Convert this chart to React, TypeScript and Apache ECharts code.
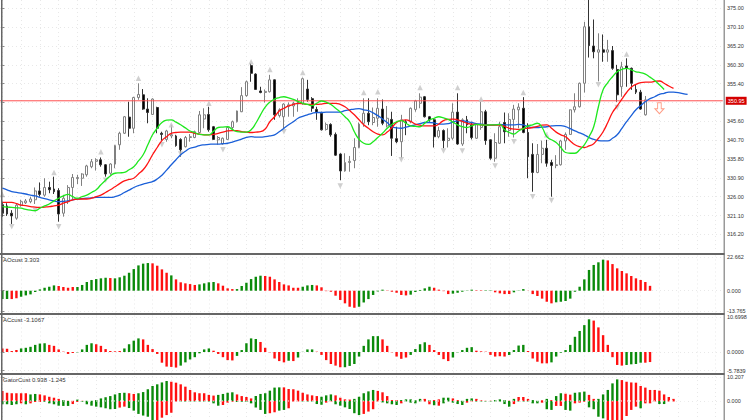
import React, { useEffect, useRef } from "react";
import * as echarts from "echarts";

const FONT = "'Liberation Sans', Arial, sans-serif";
const BARS = 154;
const categories = Array.from({ length: BARS }, (_, i) => String(i));
const gridSlots = categories.map((_, i) => i).filter((i) => i % 4 === 0);

const opens = [
323.9,323.6,321.7,320.4,323.8,324.4,324.7,325.2,327.5,326.4,
328.4,328.0,327.6,321.7,324.7,328.4,330.7,330.8,331.7,333.8,
335.2,335.6,334.3,332.1,334.5,339.5,342.5,346.7,343.8,351.8,
352.5,348.8,347.4,349.2,342.5,340.9,341.8,341.8,340.9,339.0,
341.4,341.4,342.7,346.2,347.4,344.2,340.8,339.7,340.9,344.0,
345.5,348.1,352.3,360.1,357.9,353.5,353.1,353.3,356.4,347.1,
346.8,349.5,349.6,350.1,350.3,354.0,351.5,348.7,347.7,343.5,
344.8,342.2,337.1,332.7,334.9,335.4,338.8,345.1,347.7,345.3,
346.4,348.8,344.4,346.1,341.1,340.3,345.5,345.5,348.7,350.3,
352.0,346.8,346.0,341.6,343.2,340.6,341.2,348.0,339.7,346.0,
344.7,341.2,344.0,348.1,340.8,336.0,339.9,345.3,343.2,346.1,
348.6,349.0,342.7,337.0,332.3,337.0,338.6,334.9,334.1,334.3,
340.5,342.2,348.6,349.4,355.5,370.2,365.2,363.6,364.2,363.6,
364.0,359.1,354.6,360.0,359.4,353.9,353.2,347.3];
const closes = [
321.7,321.5,321.0,323.8,324.7,324.9,325.4,327.5,326.6,328.4,
327.8,327.3,321.5,325.6,328.4,331.0,331.0,331.9,334.0,335.1,
335.6,334.3,331.9,334.5,339.3,342.5,346.8,343.8,351.8,352.6,
348.8,347.9,351.4,343.8,342.2,343.1,342.1,339.3,338.2,341.4,
341.6,342.9,347.3,347.3,343.4,340.9,341.4,341.2,344.0,345.5,
348.3,352.3,355.9,358.1,353.9,353.1,353.4,356.4,347.3,348.6,
350.1,349.9,350.3,350.7,356.7,351.3,349.0,347.9,343.4,344.8,
342.1,336.8,332.7,334.9,335.2,338.8,344.9,347.7,345.5,346.6,
349.0,345.1,346.4,341.2,340.3,346.0,345.1,349.0,350.9,351.9,
346.8,346.0,341.6,343.2,340.6,341.2,348.0,339.7,346.0,344.7,
341.4,344.7,348.1,340.6,336.0,340.1,344.2,342.9,346.1,348.8,
349.3,342.7,336.4,332.3,337.0,338.6,334.7,334.1,334.3,340.5,
342.2,348.6,349.4,355.5,370.2,365.3,363.7,364.2,363.6,364.2,
359.4,352.5,359.8,359.4,355.5,353.2,348.8,351.2];
const lows = [
320.8,321.0,318.9,320.0,323.4,324.1,324.3,324.1,326.0,326.0,
326.9,326.7,319.5,320.8,324.1,325.3,329.3,328.8,331.2,333.4,
332.8,333.8,331.2,331.7,333.4,338.2,342.3,341.6,342.5,351.2,
348.6,345.1,347.3,342.5,340.6,340.3,341.2,339.0,336.4,338.8,
340.3,341.2,342.5,343.8,342.9,340.8,339.5,339.5,340.8,343.5,
345.3,348.0,352.0,355.9,353.8,352.9,350.5,353.1,346.0,346.6,
343.8,346.8,346.8,348.1,349.9,350.7,348.1,346.0,343.2,343.2,
341.6,336.6,330.3,332.5,332.5,333.4,338.6,344.2,344.6,344.6,
344.2,344.6,344.0,336.6,339.9,336.0,342.0,345.1,348.1,349.0,
346.6,345.5,338.8,341.2,338.6,338.8,340.8,339.5,339.2,342.5,
340.9,341.0,343.4,339.5,335.6,335.1,339.7,339.9,341.6,341.4,
343.8,342.5,330.8,327.3,332.1,334.7,333.8,326.0,333.4,334.1,
338.2,342.1,347.9,349.2,353.1,362.2,362.0,356.0,361.1,361.1,
359.0,350.7,352.0,354.6,353.8,352.7,348.6,347.1];
const highs = [
324.7,324.3,322.5,324.3,325.2,325.4,326.0,328.4,329.7,330.8,
329.9,331.2,328.2,326.5,329.0,331.9,331.7,332.1,334.3,335.8,
336.0,336.2,334.5,334.7,339.5,342.9,347.0,350.7,352.0,355.5,
354.0,351.6,351.6,349.4,342.9,343.4,344.7,342.1,341.2,341.8,
342.3,343.2,348.3,349.0,349.4,344.4,341.8,341.4,344.4,345.8,
348.4,354.5,356.2,360.7,358.1,354.6,353.9,357.7,356.5,349.0,
350.3,350.5,350.7,351.6,357.0,356.4,351.9,349.4,348.1,345.3,
345.1,342.7,337.3,337.3,336.6,341.2,345.3,351.6,351.6,349.2,
351.6,351.3,349.6,348.1,344.2,347.3,346.0,349.2,351.2,352.9,
352.2,347.0,346.4,344.2,343.5,343.8,350.3,352.9,346.4,347.0,
345.5,345.1,350.7,348.6,340.9,342.5,345.5,347.9,347.7,349.9,
350.3,351.9,345.1,339.9,339.7,340.6,340.8,335.6,336.8,340.8,
342.7,348.7,352.9,355.7,371.5,377.2,372.1,368.5,368.2,366.8,
365.2,360.3,361.1,362.0,359.6,355.3,353.8,352.2];

const jaw = [
328.2,327.8,327.3,327.1,326.9,326.7,326.4,326.2,325.8,325.5,325.2,324.9,324.7,324.8,324.9,325.2,325.4,325.5,325.6,325.7,
325.8,325.8,325.8,325.8,326.0,326.4,327.1,327.7,328.4,328.9,329.3,329.6,329.9,330.6,331.6,332.9,334.3,335.6,336.9,337.8,
338.6,338.9,339.3,339.5,339.6,339.7,339.7,339.8,339.9,340.2,340.6,341.0,341.4,341.6,341.5,341.5,341.6,341.8,342.1,342.9,
343.8,344.7,345.5,346.4,346.9,347.3,347.7,347.9,347.9,348.0,348.0,348.0,348.0,348.4,348.6,348.8,348.9,348.6,348.4,347.8,
347.1,346.2,345.3,344.2,343.9,343.8,344.1,344.4,344.7,345.0,345.3,345.3,345.2,344.9,344.9,345.0,345.4,345.7,345.8,345.5,
345.3,345.0,344.9,344.7,344.6,344.7,344.8,344.7,344.7,344.7,344.8,344.7,344.2,344.0,344.0,344.1,344.2,344.4,344.5,344.5,
344.2,343.7,343.1,342.6,342.1,341.4,340.9,340.6,340.5,340.5,341.2,342.1,343.8,345.5,347.1,348.6,349.7,350.7,351.5,352.0,
352.6,352.9,353.2,353.2,353.1,352.8,352.6];
const teeth = [
324.5,324.5,324.5,324.2,323.8,323.7,323.4,323.3,323.2,323.3,323.4,323.6,323.8,324.3,324.7,325.2,325.4,325.4,325.4,325.6,
326.0,326.4,327.1,327.8,328.6,329.4,330.1,330.5,330.8,331.9,333.0,334.7,336.9,338.8,340.6,341.6,342.5,342.7,342.8,342.8,
342.8,342.5,342.3,342.1,342.1,342.2,342.5,342.8,343.1,343.2,343.2,342.9,342.8,342.7,342.8,342.9,343.6,345.5,346.8,348.3,
349.0,349.6,350.0,350.3,350.2,350.0,350.0,350.0,350.1,350.3,350.3,350.3,350.0,349.4,348.4,347.3,346.0,344.7,343.8,342.9,
342.3,342.1,342.8,344.0,345.3,345.8,346.0,345.6,344.9,344.6,344.4,344.4,344.4,344.9,345.8,346.1,346.2,346.0,345.6,345.1,
344.9,344.8,344.7,344.6,344.6,344.6,344.6,344.3,343.8,343.6,343.5,343.7,343.8,344.0,344.3,344.6,344.7,343.8,342.8,342.1,
341.6,340.5,339.5,339.0,338.8,339.2,339.8,341.2,342.9,345.3,347.9,349.6,351.4,353.1,354.5,355.2,355.7,355.8,355.8,356.0,
356.1,355.5,354.8,354.2];
const lips = [
323.4,323.3,323.2,323.1,323.0,322.7,322.5,322.4,323.0,323.6,324.1,324.9,325.6,326.2,326.6,326.0,325.6,326.0,326.4,327.1,
327.8,329.1,330.3,331.4,332.1,332.2,332.3,333.0,333.8,335.3,336.9,339.5,342.1,343.8,345.3,345.9,346.0,345.4,344.7,343.9,
343.1,342.7,342.2,342.1,342.1,343.0,344.0,344.1,344.2,343.5,342.9,342.8,342.8,343.4,345.1,347.3,349.3,350.6,351.4,351.8,
352.0,351.7,351.3,350.8,350.3,350.0,349.7,350.3,350.9,350.6,350.0,349.0,348.0,346.8,345.5,342.9,340.9,339.9,339.6,340.3,
341.4,342.5,343.8,344.8,345.5,345.8,345.1,344.4,344.3,344.2,345.1,346.0,346.4,346.8,346.5,346.1,345.4,344.7,344.2,344.0,
344.4,344.8,344.7,344.6,344.7,344.7,344.8,343.4,342.7,342.3,343.1,343.7,344.4,344.7,345.1,344.0,341.6,340.8,340.1,338.8,
337.5,337.3,337.3,338.2,339.5,341.6,344.2,349.4,353.8,355.7,357.2,358.5,359.1,359.4,359.0,358.5,358.3,357.9,357.1,356.2,
355.1,353.9];

const fractalsUp: [number, number][] = [
[0,326.6],[11,332.3],[21,337.7],[29,356.8],[36,344.7],[44,350.3],[53,361.1],[57,359.1],[64,358.3],
[77,353.1],[80,353.3],[89,354.4],[97,354.4],[102,351.4],[111,353.1],[116,342.1],[133,363.1]];
const fractalsDown: [number, number][] = [
[2,318.2],[7,322.5],[12,318.2],[22,330.3],[34,339.5],[38,337.1],[47,338.2],[60,342.9],[72,328.8],
[85,335.6],[94,337.9],[98,337.9],[105,334.0],[109,340.3],[113,326.0],[117,325.0],[127,355.1],[131,349.2]];
const sellSignal: [number, number][] = [[140, 349.0]];
const lastPrice = 350.95;

const aoValues = [
-5.7,-5.7,-5.7,-5.2,-4.1,-3.2,-2.5,-0.9,0.9,2.0,2.7,3.6,3.2,2.5,2.0,2.5,2.5,3.9,5.9,7.3,
7.9,8.4,8.8,8.6,8.4,9.1,10.2,12.2,14.7,17.2,18.4,18.8,18.6,17.0,14.5,12.2,10.4,7.7,5.7,5.0,
4.5,3.9,4.3,5.0,5.7,5.9,5.0,3.4,1.6,1.1,1.1,3.2,5.4,7.9,9.5,10.2,10.0,9.5,7.7,5.9,
4.3,3.6,2.0,2.0,2.7,3.6,3.9,3.6,2.3,-0.3,-0.7,-3.4,-6.3,-8.6,-10.9,-11.6,-10.9,-8.0,-5.7,-2.9,
-0.5,0.7,-0.2,-0.7,-1.4,-2.9,-3.2,-2.7,-0.9,0.5,1.6,2.7,2.0,0.7,-0.3,-2.3,-2.0,-1.4,-0.7,-0.2,
0.7,0.3,0.3,0.3,0.3,-1.1,-1.8,-2.3,-2.3,-1.1,0.2,1.1,0.1,-2.3,-3.6,-5.4,-7.5,-8.6,-7.9,-7.5,
-7.0,-5.4,-0.7,2.7,7.7,14.1,17.5,19.3,21.1,20.6,18.1,15.2,13.4,11.8,10.0,8.4,7.3,5.9,3.3];
const aoDirs = "2g 2r 8g 4r 7g 1r 8g 4r 1g 5r 4g 4r 4g 2g 8r 3g 9r 6g 5r 5g 4r 5g 2r 2g 4r 3g 6r 11g 10r";
const aoTicks = [22.662, 0, -13.765];

const acValues = [
1.1,1.0,0.3,0.6,1.1,1.3,1.6,2.2,2.6,2.7,2.2,1.9,0.8,0.1,-0.6,-0.3,-0.1,0.8,2.2,2.7,
2.4,1.9,0.9,0.3,0.2,0.3,1.1,2.4,3.5,4.2,3.9,2.2,0.9,-0.6,-3.3,-4.5,-4.6,-4.8,-4.2,-3.2,
-2.3,-1.6,-0.4,0.8,1.1,0.4,-0.6,-1.6,-2.5,-2.6,-1.2,0.6,2.7,4.2,4.0,3.1,1.3,-0.1,-2.0,-2.8,
-3.2,-2.7,-2.8,-1.7,0.05,0.8,0.8,0.1,-0.9,-2.5,-3.7,-4.2,-4.7,-4.7,-4.3,-3.7,-1.4,1.9,3.9,4.9,
4.9,3.9,1.9,-0.1,-1.4,-2.1,-1.7,-0.9,0.9,2.4,3.0,2.2,0.6,-0.9,-2.2,-2.8,-1.7,-0.1,0.6,1.3,
1.5,0.4,0.2,0.1,-0.9,-1.4,-1.3,-1.4,-0.9,0.6,2.0,2.2,0.3,-2.0,-3.0,-3.5,-3.5,-3.2,-1.4,-0.2,
0.6,2.2,4.7,6.5,8.3,10.1,9.7,7.6,5.2,2.2,-1.6,-4.0,-4.2,-4.0,-3.8,-3.7,-3.3,-3.3,-3.1];
const acDirs = "4r 6g 6r 4g 6r 4g 8r 7g 5r 5g 6r 1g 1r 4g 6r 8g 6r 4g 5r 5g 7r 4g 5r 9g 7r 4g 2r";
const acTicks = [10.6998, 0, -5.7839];

const gatorUpper = [
4.3,3.5,3.3,3.3,3.3,3.3,2.8,3.0,2.8,2.4,1.8,1.4,0.9,0.4,0.1,0.1,0.6,0.1,0.1,0.1,
0.4,1.1,1.6,2.1,2.8,3.4,3.5,3.3,3.0,3.3,3.8,5.0,6.4,7.1,7.9,8.5,8.2,7.8,7.1,6.1,
4.7,3.7,3.3,3.3,2.6,2.3,2.6,3.0,3.5,3.7,2.8,2.1,1.7,1.1,2.1,3.0,3.3,4.4,5.7,5.8,
5.8,5.1,5.0,4.4,3.5,2.8,2.4,2.1,1.8,2.4,2.8,2.4,1.4,0.7,0.6,0.9,1.8,3.3,4.1,4.7,
4.3,3.7,2.1,0.4,0.4,0.4,0.7,0.7,0.3,0.9,0.9,0.3,0.4,0.7,1.4,1.4,1.1,0.4,0.1,0.9,
1.1,0.9,0.3,0.1,0.1,0.4,0.7,0.4,0.1,0.9,1.7,1.7,0.9,0.4,0.1,0.3,0.9,0.4,2.1,3.3,
3.1,2.7,3.5,3.7,4.0,2.6,0.9,0.9,2.8,4.7,7.5,9.2,8.9,8.2,7.9,7.8,6.4,5.7,4.7,4.7,
4.4,2.8,1.7,0.9];
const gatorLower = [
-1.4,-1.4,-1.7,-1.4,-1.0,-1.4,-1.0,-0.4,-0.4,-0.3,-1.0,-1.4,-2.0,-2.1,-2.1,-1.3,-0.4,-0.3,-1.4,-2.0,
-2.4,-2.7,-3.1,-3.5,-3.4,-2.8,-2.4,-3.0,-4.1,-5.5,-6.2,-6.7,-8.4,-8.1,-7.1,-6.0,-5.0,-0.2,-0.2,-0.2,
-0.2,-0.2,-0.2,-0.2,-0.2,-1.0,-2.0,-1.7,-0.7,-0.3,-0.4,-0.3,-0.3,-1.0,-2.8,-3.8,-5.5,-5.2,-4.8,-4.1,
-3.8,-3.1,-0.2,-0.2,-0.2,-0.2,-0.2,-1.3,-1.6,-0.7,-0.2,-1.4,-2.0,-2.7,-3.4,-5.2,-6.0,-5.5,-4.5,-3.5,
-0.2,-0.6,-1.0,-1.4,-1.7,-1.0,-0.2,-0.7,-1.0,-0.2,-0.2,-1.4,-1.8,-2.0,-1.0,-0.2,-0.7,-1.3,-1.7,-0.7,
-0.2,-0.2,-0.2,-0.2,-0.2,-0.2,-0.2,-1.3,-2.4,-1.3,-0.2,-0.2,-0.2,-1.0,-1.0,-0.7,-3.5,-3.8,-2.1,-2.1,
-3.8,-4.1,-1.0,-0.7,-0.3,-2.7,-3.5,-6.7,-7.4,-8.4,-8.4,-8.4,-8.4,-6.4,-3.8,-2.4,-3.1,-1.0,-1.0,-0.2,
-1.3,-1.3,-0.2,-0.2];
const gatorUpperDirs = "6r 2g 5r 1g 2r 1g 1r 9g 2r 7g 10r 4g 4r 6g 8r 3g 4r 5g 5r 5g 1r 1g 2r 2g 2r 3g 4r 3g 1r 1g 3r 2g 1r 1g 1r 2g 2r 3g 2r 5g 12r";
const gatorLowerDirs = "4g 1r 1g 3r 6g 2r 8g 2r 6g 5r 7g 2g 3r 4g 3g 2r 2g 3r 5g 2r 6g 4r 4g 1r 4g 2r 1g 1r 5g 2r 8g 1r 5g 1r 2g 2r 2g 3r 4g 7r 1g 3r 2g 2r";
const gatorTicks = [10.207, 0];

const priceLabels = [375.0, 370.1, 365.2, 360.3, 355.4, 345.6, 340.7, 335.8, 330.9, 326.0, 321.1, 316.2];
const priceTicks = [375.0, 370.1, 365.2, 360.3, 355.4, 350.5, 345.6, 340.7, 335.8, 330.9, 326.0, 321.1, 316.2];

const expandDirs = (runs: string): string[] =>
  runs.split(" ").flatMap((r) => Array(parseInt(r, 10)).fill(r.slice(-1)));

const GREEN = "#0a8a0a";
const RED = "#ff1010";
const GRIDLINE = { show: true, lineStyle: { color: "#e8e8e8", width: 1, type: [1, 3] as number[] } };
const X_MIN = -0.5;
const X_MAX = BARS - 0.5;

const panels = [
  { top: 0, height: 252, min: 311.61, max: 377.17 },
  { top: 255.5, height: 57.5, min: -15.16, max: 23.93 },
  { top: 315.5, height: 57.5, min: -6.48, max: 11.27 },
  { top: 376, height: 44, min: -8.09, max: 10.64 },
];
const PANEL_TICKS = [priceTicks, aoTicks, acTicks, gatorTicks];
const PANEL_LABELS = [priceLabels, aoTicks, acTicks, gatorTicks];
const PANEL_DIGITS = [2, 3, 4, 3];

function barSeries(idx: number, values: number[], runs: string) {
  const dirs = expandDirs(runs);
  return {
    type: "bar",
    xAxisIndex: idx,
    yAxisIndex: idx,
    data: values,
    barWidth: 2.4,
    barGap: "-100%",
    silent: true,
    itemStyle: { color: (p: any) => (dirs[p.dataIndex] === "g" ? GREEN : RED) },
  };
}

function lineSeries(values: number[], color: string) {
  return {
    type: "line",
    xAxisIndex: 0,
    yAxisIndex: 0,
    data: values,
    smooth: true,
    symbol: "none",
    silent: true,
    z: 5,
    lineStyle: { color, width: 1.3 },
  };
}

const divider = (y: number) => ({
  type: "rect",
  shape: { x: 0, y, width: 724.5, height: 2 },
  style: { fill: "#666666" },
  z: 20,
});

const caption = (text: string, y: number) => ({
  type: "text",
  x: 3,
  y,
  style: { text, fontFamily: FONT, fontSize: 6, fill: "#333333", textVerticalAlign: "middle" },
  z: 21,
});

export default function App() {
  const ref = useRef<HTMLDivElement>(null);
  useEffect(() => {
    document.body.style.margin = "0";
    const chart = echarts.init(ref.current!, undefined, { renderer: "svg" });
    const candleData = opens.map((o, i) => [o, closes[i], lows[i], highs[i]]);
    chart.setOption({
      animation: false,
      backgroundColor: "#ffffff",
      grid: panels.map((p) => ({ left: -1.02, width: 723.8, top: p.top, height: p.height })),
      xAxis: [
        ...panels.map((_, i) => ({
          type: "category",
          gridIndex: i,
          data: categories,
          boundaryGap: true,
          axisLine: { show: false },
          axisTick: { show: false },
          axisLabel: { show: false },
          splitLine: { show: false },
        })),
        ...panels.map((_, i) => ({
          type: "value",
          gridIndex: i,
          min: X_MIN,
          max: X_MAX,
          axisLine: { show: false },
          axisTick: { show: false, customValues: gridSlots },
          axisLabel: { show: false, customValues: gridSlots },
          splitLine: GRIDLINE,
        })),
      ],
      yAxis: panels.map((p, i) => ({
        type: "value",
        gridIndex: i,
        position: "right",
        offset: 1.2,
        min: p.min,
        max: p.max,
        axisLine: { show: false },
        axisTick: { show: true, length: 2, lineStyle: { color: "#888888" }, customValues: PANEL_TICKS[i] },
        axisLabel: {
          show: true,
          customValues: PANEL_LABELS[i],
          margin: 3,
          fontSize: 5.5,
          fontFamily: FONT,
          color: "#333333",
          formatter: (v: number) => v.toFixed(PANEL_DIGITS[i]),
        },
        splitLine: GRIDLINE,
      })),
      series: [
        {
          type: "candlestick",
          xAxisIndex: 0,
          yAxisIndex: 0,
          data: candleData,
          barWidth: 2.4,
          silent: true,
          itemStyle: {
            color: "#ffffff",
            color0: "#000000",
            borderColor: "#808080",
            borderColor0: "#333333",
            borderWidth: 1,
          },
        },
        lineSeries(jaw, "#1a5fd8"),
        lineSeries(teeth, "#ff1414"),
        lineSeries(lips, "#1ee81e"),
        {
          type: "line",
          xAxisIndex: 4,
          yAxisIndex: 0,
          data: [[X_MIN, lastPrice], [X_MAX, lastPrice]],
          symbol: "none",
          silent: true,
          clip: false,
          z: 4,
          lineStyle: { color: "#ff5050", width: 1 },
          endLabel: {
            show: true,
            distance: 3,
            formatter: lastPrice.toFixed(2),
            color: "#ffffff",
            backgroundColor: "#d40000",
            fontSize: 5.5,
            fontFamily: FONT,
            padding: [1, 2],
          },
        },
        {
          type: "scatter",
          xAxisIndex: 0,
          yAxisIndex: 0,
          data: fractalsUp,
          symbol: "triangle",
          symbolSize: 5.5,
          silent: true,
          z: 4,
          itemStyle: { color: "#c4c4c4" },
        },
        {
          type: "scatter",
          xAxisIndex: 0,
          yAxisIndex: 0,
          data: fractalsDown,
          symbol: "triangle",
          symbolRotate: 180,
          symbolSize: 5.5,
          silent: true,
          z: 4,
          itemStyle: { color: "#c4c4c4" },
        },
        {
          type: "scatter",
          xAxisIndex: 0,
          yAxisIndex: 0,
          data: sellSignal,
          symbol: "path://M3 0H7V6H10L5 11L0 6H3Z",
          symbolSize: [9, 11],
          silent: true,
          z: 6,
          itemStyle: { color: "#ffffff", borderColor: "#ff8468", borderWidth: 1 },
        },
        barSeries(1, aoValues, aoDirs),
        barSeries(2, acValues, acDirs),
        barSeries(3, gatorUpper, gatorUpperDirs),
        barSeries(3, gatorLower, gatorLowerDirs),
        {
          type: "line",
          xAxisIndex: 7,
          yAxisIndex: 3,
          data: [[X_MIN, 0], [X_MAX, 0]],
          symbol: "none",
          silent: true,
          z: 6,
          lineStyle: { color: "#ffffff", width: 1, type: [1, 2] },
        },
      ],
      graphic: [
        { type: "rect", shape: { x: 1, y: 0, width: 1.5, height: 420 }, style: { fill: "#666666" }, z: 20 },
        { type: "rect", shape: { x: 723.5, y: 0, width: 1.5, height: 420 }, style: { fill: "#999999" }, z: 20 },
        divider(253),
        divider(313),
        divider(373),
        caption("AOcust 3.303", 260),
        caption("ACcust -3.1067", 320),
        caption("GatorCust 0.938 -1.245", 380),
      ],
    });
    return () => chart.dispose();
  }, []);
  return <div ref={ref} style={{ width: 752, height: 420 }} />;
}
